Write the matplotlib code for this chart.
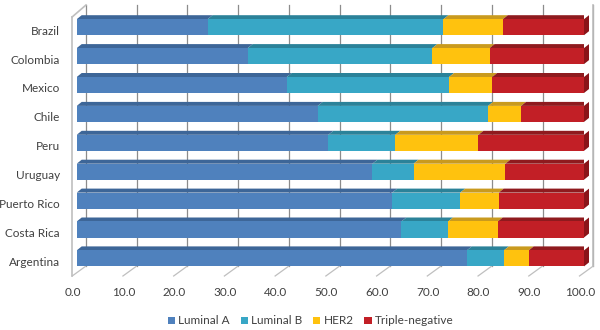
import matplotlib
matplotlib.use("Agg")
import matplotlib.pyplot as plt
from matplotlib.patches import Polygon
from matplotlib.transforms import ScaledTranslation
import numpy as np

countries = ["Brazil", "Colombia", "Mexico", "Chile", "Peru", "Uruguay",
             "Puerto Rico", "Costa Rica", "Argentina"]
luminal_a = [25.8, 33.7, 41.4, 47.5, 49.6, 58.3, 62.2, 64.0, 76.9]
luminal_b = [46.5, 36.4, 32.0, 33.6, 13.2, 8.1, 13.4, 9.2, 7.3]
her2 = [11.7, 11.3, 8.5, 6.5, 16.4, 18.1, 7.6, 9.8, 4.9]
triple_neg = [16.0, 18.6, 18.1, 12.4, 20.8, 15.5, 16.8, 17.0, 10.9]
series_names = ["Luminal A", "Luminal B", "HER2", "Triple-negative"]
xticks = [0, 10, 20, 30, 40, 50, 60, 70, 80, 90, 100]

front_cols = ["#4F81BD", "#38A7C6", "#FFC20E", "#C21F26"]
top_cols = ["#3D6698", "#2B8299", "#C99A1E", "#8F1A1E"]
side_col = "#8A1419"

plt.rcParams['font.family'] = ['Lato', 'DejaVu Sans']

W, H = 600, 330
fig = plt.figure(figsize=(W / 100, H / 100), dpi=100)

# layout (pixels)
x0_px, x100_px = 76.7, 584.0
row0_px, row_step = 27.2, 28.9
top_px, bot_px = 5.0, 276.0
ax = fig.add_axes([x0_px / W, 1 - bot_px / H, (x100_px - x0_px) / W, (bot_px - top_px) / H])
ax.set_xlim(0, 100)
ymin = (top_px - row0_px) / row_step
ymax = (bot_px - row0_px) / row_step
ax.set_ylim(ymax, ymin)
ppx = (x100_px - x0_px) / 100.0  # px per data unit x

def dx(px):
    return px / ppx

def dy(px):
    return px / row_step

for s in ax.spines.values():
    s.set_visible(False)

grid_col = "#8C8C8C"
wall_col = "#BFBFBF"
depth_x = dx(9.3)
# back-wall gridlines
y_back_bot = (266 - row0_px) / row_step
for v in xticks:
    ax.plot([v + depth_x, v + depth_x], [ymin, y_back_bot], color=grid_col, lw=0.9, zorder=0, clip_on=False)
    # floor diagonals
    ax.plot([v - dx(4.5), v + depth_x], [ymax, y_back_bot], color=wall_col, lw=0.9, zorder=0, clip_on=False)
# right wall
ax.plot([100 + depth_x, 100 + depth_x], [ymin, y_back_bot], color=wall_col, lw=1.2, zorder=0, clip_on=False)
# left wall
lx = -dx(4.6)
ly_top = (17 - row0_px) / row_step
ax.plot([lx, lx], [ly_top, ymax], color=wall_col, lw=1.2, zorder=0, clip_on=False)
ax.plot([lx, depth_x], [ly_top, ymin], color=wall_col, lw=1.2, zorder=0, clip_on=False)

y = np.arange(len(countries))
h = 16.0 / row_step
ox, oy = dx(5), dy(4)
series = [luminal_a, luminal_b, her2, triple_neg]
left = np.zeros(len(countries))
handles = []
for k, vals in enumerate(series):
    vals = np.array(vals)
    b = ax.barh(y, vals, left=left, height=h, color=front_cols[k], zorder=3,
                label=series_names[k], linewidth=0)
    handles.append(b)
    for i in range(len(countries)):
        l, r = left[i], left[i] + vals[i]
        yt = y[i] - h / 2
        poly = Polygon([(l, yt), (r, yt), (r + ox, yt - oy), (l + ox, yt - oy)],
                       closed=True, facecolor=top_cols[k], edgecolor='none', zorder=2)
        ax.add_patch(poly)
        if k == len(series) - 1:
            side = Polygon([(r, yt), (r + ox, yt - oy), (r + ox, y[i] + h / 2 - oy), (r, y[i] + h / 2)],
                           closed=True, facecolor=side_col, edgecolor='none', zorder=2, clip_on=False)
            ax.add_patch(side)
    left = left + vals

text_col = "#404040"
ax.set_xticks(xticks)
ax.set_xticklabels([f"{v:.1f}" for v in xticks], fontsize=8.5, color=text_col)
ax.tick_params(axis='x', length=0, pad=8)
for lab in ax.get_xticklabels():
    lab.set_transform(lab.get_transform() + ScaledTranslation(-4 / 100, 0, fig.dpi_scale_trans))
ax.set_yticks(y)
ax.set_yticklabels(countries, fontsize=8.5, color=text_col)
ax.tick_params(axis='y', length=0, pad=12)
for lab in ax.get_yticklabels():
    lab.set_transform(lab.get_transform() + ScaledTranslation(0, -3 / 100, fig.dpi_scale_trans))

fig.legend(handles=handles, labels=series_names, loc='center', bbox_to_anchor=(0.518, 1 - 321 / H),
           ncol=4, frameon=False, fontsize=8.5, handlelength=0.6, handleheight=0.6,
           handletextpad=0.3, columnspacing=0.9, labelcolor=text_col)

fig.savefig("out.png", dpi=100)
